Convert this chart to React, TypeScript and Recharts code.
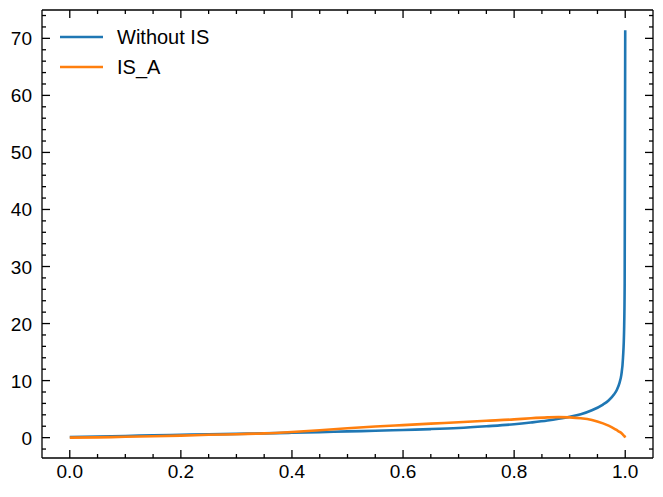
import React from 'react';
import { LineChart, Line, XAxis, YAxis } from 'recharts';

const xValues = [
  0, 0.05, 0.1, 0.15, 0.2, 0.25, 0.3, 0.35, 0.4, 0.45, 0.5, 0.55, 0.6, 0.65, 0.7, 0.75,
  0.8, 0.83, 0.86, 0.88, 0.9, 0.92, 0.94, 0.96, 0.97, 0.98, 0.985, 0.99, 0.993, 0.996,
  0.998, 0.999, 1.0,
];
const withoutIS = [
  0.1, 0.2, 0.3, 0.4, 0.5, 0.58, 0.66, 0.75, 0.85, 0.95, 1.1, 1.2, 1.35, 1.5, 1.7, 2.0,
  2.35, 2.65, 3.0, 3.3, 3.65, 4.1, 4.8, 5.8, 6.5, 7.6, 8.4, 9.7, 11, 14,
  19, 27, 71.4,
];
const isA = [
  0, 0.05, 0.15, 0.25, 0.35, 0.5, 0.6, 0.75, 1.0, 1.3, 1.65, 1.95, 2.2, 2.45, 2.7, 2.95,
  3.2, 3.4, 3.55, 3.6, 3.55, 3.4, 3.1, 2.5, 2.1, 1.6, 1.3, 1.0, 0.8, 0.5,
  0.3, 0.2, 0,
];

const xMajorTicks = [0, 0.2, 0.4, 0.6, 0.8, 1.0];
const xMinorTicks = [0.05, 0.1, 0.15, 0.25, 0.3, 0.35, 0.45, 0.5, 0.55, 0.65, 0.7, 0.75, 0.85, 0.9, 0.95];
const yMajorTicks = [0, 10, 20, 30, 40, 50, 60, 70];
const yMinorTicks = [-2, 2, 4, 6, 8, 12, 14, 16, 18, 22, 24, 26, 28, 32, 34, 36, 38, 42, 44, 46, 48, 52, 54, 56, 58, 62, 64, 66, 68, 72, 74];

const xTickLabels = ['0.0', '0.2', '0.4', '0.6', '0.8', '1.0'];
const seriesNames = ['Without IS', 'IS_A'];

const chartData = xValues.map((x, i) => ({ x, withoutIS: withoutIS[i], isA: isA[i] }));

const BLUE = '#1f77b4';
const ORANGE = '#ff7f0e';
const FONT = '"Liberation Sans", Arial, sans-serif';
const MAJOR = 8;
const MINOR = 4;

const isMajor = (v: number, majors: number[]) => majors.some((m) => Math.abs(m - v) < 1e-9);

const XTick = (props: any) => {
  const { x, y, payload, side } = props;
  const major = isMajor(payload.value, xMajorTicks);
  const len = major ? MAJOR : MINOR;
  const dir = side === 'top' ? 1 : -1;
  const idx = xMajorTicks.findIndex((m) => Math.abs(m - payload.value) < 1e-9);
  return (
    <g>
      <line x1={x} x2={x} y1={y} y2={y + dir * len} stroke="#000" strokeWidth={1.3} />
      {side !== 'top' && major && (
        <text x={x} y={y + 20} textAnchor="middle" fontSize={19} fontFamily={FONT} fill="#000">
          {xTickLabels[idx]}
        </text>
      )}
    </g>
  );
};

const YTick = (props: any) => {
  const { x, y, payload, side } = props;
  const major = isMajor(payload.value, yMajorTicks);
  const len = major ? MAJOR : MINOR;
  const dir = side === 'right' ? -1 : 1;
  return (
    <g>
      <line x1={x} x2={x + dir * len} y1={y} y2={y} stroke="#000" strokeWidth={1.3} />
      {side !== 'right' && major && (
        <text x={x - 10} y={y + 7} textAnchor="end" fontSize={19} fontFamily={FONT} fill="#000">
          {payload.value}
        </text>
      )}
    </g>
  );
};

const LegendBox = () => (
  <div
    style={{
      position: 'absolute',
      left: 60,
      top: 22,
      fontFamily: FONT,
      fontSize: 20,
      color: '#000',
    }}
  >
    {[
      { label: seriesNames[0], color: BLUE },
      { label: seriesNames[1], color: ORANGE },
    ].map((item) => (
      <div key={item.label} style={{ display: 'flex', alignItems: 'center', height: 30 }}>
        <svg width={43} height={4} style={{ display: 'block' }}>
          <line x1={0} x2={43} y1={2} y2={2} stroke={item.color} strokeWidth={2.6} />
        </svg>
        <span style={{ marginLeft: 14 }}>{item.label}</span>
      </div>
    ))}
  </div>
);

const xDomain: [number, number] = [-0.05, 1.05];
const yDomain: [number, number] = [-3.57, 74.97];
const allXTicks = [...xMajorTicks, ...xMinorTicks].sort((a, b) => a - b);
const allYTicks = [...yMajorTicks, ...yMinorTicks].sort((a, b) => a - b);

export default function App() {
  return (
    <div style={{ position: 'relative', width: 663, height: 497, background: '#fff' }}>
      <style>{`body{margin:0}`}</style>
      <LineChart
        width={663}
        height={497}
        data={chartData}
        margin={{ top: 0, right: 0, bottom: 0, left: 0 }}
      >
        <XAxis
          xAxisId="bottom"
          dataKey="x"
          type="number"
          domain={xDomain}
          allowDataOverflow
          ticks={allXTicks}
          interval={0}
          height={39}
          tickSize={0}
          tickMargin={0}
          stroke="#000"
          strokeWidth={1.3}
          tick={<XTick side="bottom" />}
        />
        <XAxis
          xAxisId="top"
          orientation="top"
          dataKey="x"
          type="number"
          domain={xDomain}
          allowDataOverflow
          ticks={allXTicks}
          interval={0}
          height={10}
          tickSize={0}
          tickMargin={0}
          stroke="#000"
          strokeWidth={1.3}
          tick={<XTick side="top" />}
        />
        <YAxis
          yAxisId="left"
          type="number"
          domain={yDomain}
          allowDataOverflow
          ticks={allYTicks}
          interval={0}
          width={42}
          tickSize={0}
          tickMargin={0}
          stroke="#000"
          strokeWidth={1.3}
          tick={<YTick side="left" />}
        />
        <YAxis
          yAxisId="right"
          orientation="right"
          type="number"
          domain={yDomain}
          allowDataOverflow
          ticks={allYTicks}
          interval={0}
          width={10}
          tickSize={0}
          tickMargin={0}
          stroke="#000"
          strokeWidth={1.3}
          tick={<YTick side="right" />}
        />
        <Line
          xAxisId="bottom"
          yAxisId="left"
          type="monotone"
          dataKey="withoutIS"
          name={seriesNames[0]}
          stroke={BLUE}
          strokeWidth={2.6}
          dot={false}
          activeDot={false}
          isAnimationActive={false}
        />
        <Line
          xAxisId="bottom"
          yAxisId="left"
          type="monotone"
          dataKey="isA"
          name={seriesNames[1]}
          stroke={ORANGE}
          strokeWidth={2.6}
          dot={false}
          activeDot={false}
          isAnimationActive={false}
        />
      </LineChart>
      <LegendBox />
    </div>
  );
}
